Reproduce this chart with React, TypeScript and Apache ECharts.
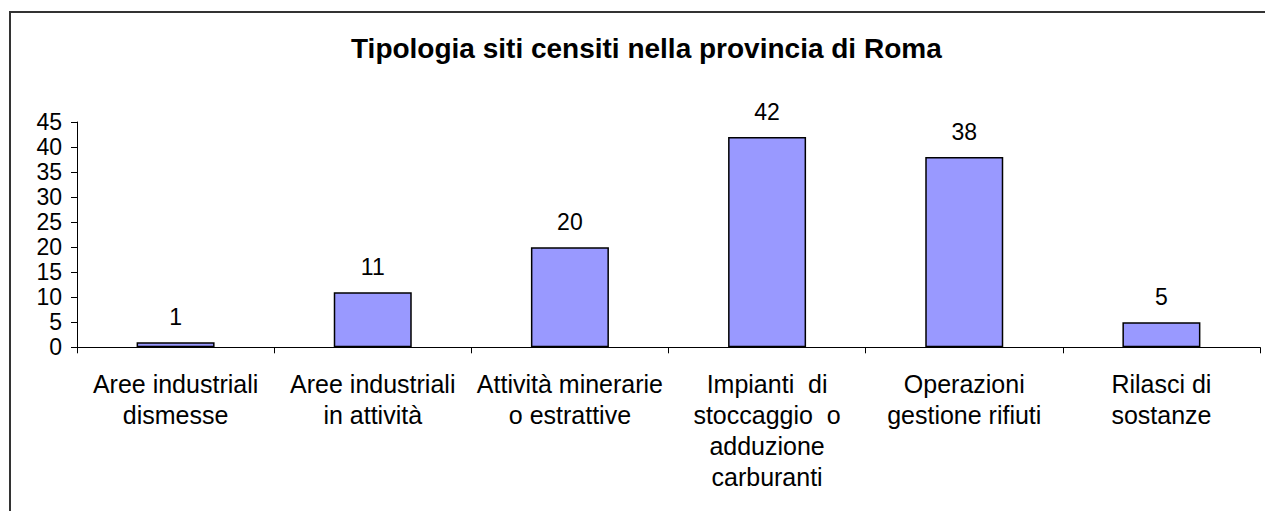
import React, { useEffect, useRef } from "react";
import * as echarts from "echarts";

const title = "Tipologia siti censiti nella provincia di Roma";
const categories = [
  "Aree industriali\ndismesse",
  "Aree industriali\nin attività",
  "Attività minerarie\no estrattive",
  "Impianti  di\nstoccaggio  o\nadduzione\ncarburanti",
  "Operazioni\ngestione rifiuti",
  "Rilasci di\nsostanze",
];
const values = [1, 11, 20, 42, 38, 5];
const yMin = 0;
const yMax = 45;
const yStep = 5;

const FONT = "'Liberation Sans', Arial, sans-serif";

export default function App() {
  const ref = useRef<HTMLDivElement>(null);
  useEffect(() => {
    document.body.style.margin = "0";
    const chart = echarts.init(ref.current!, null, { renderer: "svg" });
    chart.setOption({
      animation: false,
      backgroundColor: "#ffffff",
      textStyle: { fontFamily: FONT },
      title: {
        text: title,
        left: 351,
        top: 34,
        padding: 0,
        textStyle: { fontFamily: FONT, fontSize: 28, fontWeight: "bold", color: "#000" },
      },
      graphic: [
        {
          type: "rect",
          shape: { x: 10, y: 12, width: 1300, height: 600 },
          style: { fill: "none", stroke: "#333", lineWidth: 2 },
          silent: true,
        },
      ],
      grid: { left: 77, top: 122, width: 1183, height: 225.3, containLabel: false },
      xAxis: {
        type: "category",
        data: categories,
        axisLine: { show: true, lineStyle: { color: "#000", width: 1 } },
        axisTick: { show: true, alignWithLabel: false, length: 6, inside: false, lineStyle: { color: "#000" } },
        axisLabel: {
          interval: 0,
          margin: 21,
          fontSize: 25,
          lineHeight: 31,
          color: "#000",
          fontFamily: FONT,
          align: "center",
        },
        splitLine: { show: false },
      },
      yAxis: {
        type: "value",
        min: yMin,
        max: yMax,
        interval: yStep,
        axisLine: { show: true, lineStyle: { color: "#000", width: 1 } },
        axisTick: { show: true, length: 6, lineStyle: { color: "#000" } },
        axisLabel: { fontSize: 23, color: "#000", fontFamily: FONT, margin: 15 },
        splitLine: { show: false },
      },
      series: [
        {
          type: "bar",
          data: values,
          barWidth: 78,
          itemStyle: { color: "#9999FF", borderColor: "#000", borderWidth: 1.5 },
          label: {
            show: true,
            position: "top",
            distance: 14,
            fontSize: 23,
            color: "#000",
            fontFamily: FONT,
          },
        },
      ],
    });
    return () => chart.dispose();
  }, []);
  return <div ref={ref} style={{ width: 1265, height: 511 }} />;
}
